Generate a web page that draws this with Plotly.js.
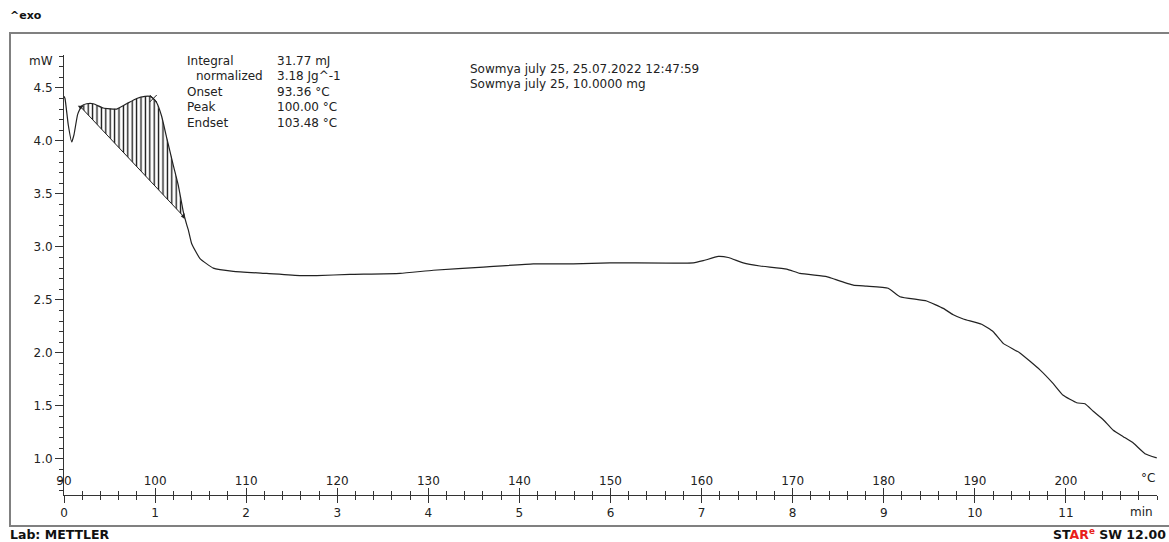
<!DOCTYPE html>
<html>
<head>
<meta charset="utf-8">
<script src="https://cdn.plot.ly/plotly-3.0.1.min.js"></script>
<style>
  html, body { margin: 0; padding: 0; background: #fff; }
  #chart { width: 1169px; height: 542px; }
</style>
</head>
<body>
<div id="chart"></div>
<script>
// DSC curve: time (min) and heat flow (mW)
var timeMin = [0.000, 0.011, 0.047, 0.085, 0.110, 0.150, 0.194, 0.249, 0.322, 0.431, 0.579, 0.688,
  0.798, 0.889, 0.944, 0.980, 1.018, 1.073, 1.127, 1.200, 1.255, 1.310, 1.347, 1.365, 1.402, 1.493,
  1.639, 1.859, 2.225, 2.591, 2.774, 3.140, 3.689, 4.054, 4.603, 5.152, 5.591, 5.994, 6.909, 7.018,
  7.183, 7.293, 7.457, 7.641, 7.934, 8.080, 8.373, 8.445, 8.665, 8.812, 9.049, 9.178, 9.471, 9.653,
  9.763, 9.873, 10.075, 10.202, 10.312, 10.495, 10.715, 10.861, 10.970, 11.118, 11.209, 11.300,
  11.410, 11.520, 11.630, 11.740, 11.868, 11.997];
var heatFlow = [4.42, 4.40, 4.15, 3.99, 4.06, 4.25, 4.33, 4.35, 4.35, 4.31, 4.30, 4.35,
  4.40, 4.42, 4.42, 4.40, 4.36, 4.23, 4.03, 3.77, 3.58, 3.33, 3.21, 3.16, 3.03, 2.89,
  2.80, 2.77, 2.75, 2.73, 2.73, 2.74, 2.75, 2.78, 2.81, 2.84, 2.84, 2.85, 2.85, 2.87,
  2.91, 2.90, 2.85, 2.82, 2.79, 2.75, 2.72, 2.70, 2.64, 2.63, 2.61, 2.53, 2.49, 2.42,
  2.36, 2.32, 2.27, 2.20, 2.09, 2.00, 1.84, 1.71, 1.60, 1.53, 1.52, 1.45,
  1.37, 1.27, 1.21, 1.15, 1.05, 1.01];

// Integration baseline (onset side to endset side)
var baseT = [0.183, 1.310];
var baseV = [4.32, 3.29];
var peakT = [0.980];
var peakV = [4.40];

// Axis ticks
var timeTicks = [0,1,2,3,4,5,6,7,8,9,10,11];
var tempTicks = [90,100,110,120,130,140,150,160,170,180,190,200];
var yTicks = [1.0,1.5,2.0,2.5,3.0,3.5,4.0,4.5];

var infoLabels = ["Integral", "normalized", "Onset", "Peak", "Endset"];
var infoValues = ["31.77 mJ", "3.18 Jg^-1", "93.36 °C", "100.00 °C", "103.48 °C"];
var sampleLines = ["Sowmya july 25, 25.07.2022 12:47:59", "Sowmya july 25, 10.0000 mg"];

// Build hatched area polygon: curve between baseline ends, back along baseline
var polyT = [baseT[0]], polyV = [baseV[0]];
for (var i = 0; i < timeMin.length; i++) {
  if (timeMin[i] > baseT[0] && timeMin[i] < baseT[1]) { polyT.push(timeMin[i]); polyV.push(heatFlow[i]); }
}
polyT.push(baseT[1]); polyV.push(baseV[1]);
polyT.push(baseT[0]); polyV.push(baseV[0]);

var FONT = "DejaVu Sans, Verdana, sans-serif";
var L = 64, R = 12, T = 55, B = 47, W = 1169, H = 542;
var pw = W - L - R, ph = H - T - B;
function px(x) { return (x - L) / pw; }
function py(y) { return (H - B - y) / ph; }

var traces = [
  { x: polyT, y: polyV, type: 'scatter', mode: 'lines', fill: 'toself',
    fillcolor: 'rgba(0,0,0,0)',
    fillpattern: { shape: '|', size: 4.4, solidity: 0.3, fgcolor: '#111', bgcolor: 'rgba(0,0,0,0)' },
    line: { width: 0 }, hoverinfo: 'skip', showlegend: false },
  { x: baseT, y: baseV, type: 'scatter', mode: 'lines', line: { color: '#222', width: 1 },
    showlegend: false },
  { x: timeMin, y: heatFlow, type: 'scatter', mode: 'lines', line: { color: '#222', width: 1.2, shape: 'spline', smoothing: 0.4 },
    showlegend: false },
  { x: peakT, y: peakV, type: 'scatter', mode: 'markers',
    marker: { symbol: 'x-thin', size: 7, line: { width: 1, color: '#222' } }, showlegend: false },
  { x: baseT, y: baseV, type: 'scatter', mode: 'markers',
    marker: { symbol: ['triangle-down', 'triangle-left'], size: 5, color: '#222' }, showlegend: false },
  { x: [90, 210], y: [null, null], xaxis: 'x2', type: 'scatter', mode: 'lines', showlegend: false }
];

var annotations = [];
function ann(text, x, y, opts) {
  var a = Object.assign({ text: text, xref: 'paper', yref: 'paper', x: px(x), y: py(y),
    xanchor: 'left', yanchor: 'middle', showarrow: false,
    font: { family: FONT, size: 12, color: '#222' } }, opts || {});
  annotations.push(a);
}
for (var k = 0; k < infoLabels.length; k++) {
  var yy = 61 + k * 15.5;
  ann(infoLabels[k], k === 1 ? 194 : 185, yy);
  ann(infoValues[k], 275, yy);
}
ann(sampleLines[0], 468, 69);
ann(sampleLines[1], 468, 84);
ann('mW', 55, 61, { xanchor: 'right' });
ann('°C', 1157, 478, { xanchor: 'right' });
ann('min', 1155, 512, { xanchor: 'right' });
ann('<b>^exo</b>', 8, 15, { font: { family: FONT, size: 11, color: '#111' } });
ann('<b>Lab: METTLER</b>', 8, 534, { font: { family: FONT, size: 12.5, color: '#111' } });
ann('<b>ST<span style="color:#e8201a">AR</span><sup style="font-size:7px;color:#e8201a">e</sup> SW 12.00</b>',
    1168, 534, { xanchor: 'right', font: { family: FONT, size: 12.5, color: '#111' } });

var layout = {
  width: W, height: H,
  margin: { l: L, r: R, t: T, b: B, pad: 0 },
  paper_bgcolor: '#fff', plot_bgcolor: '#fff',
  showlegend: false,
  font: { family: FONT, size: 12, color: '#222' },
  xaxis: {
    range: [0, 12], tickmode: 'array', tickvals: timeTicks, ticktext: timeTicks.map(String),
    ticks: 'outside', ticklen: 7, tickwidth: 1, tickcolor: '#333',
    showline: true, linecolor: '#333', linewidth: 1, showgrid: false, zeroline: false,
    tickfont: { family: FONT, size: 12, color: '#222' },
    minor: { tickmode: 'linear', tick0: 0, dtick: 0.2, ticks: 'outside', ticklen: 4, tickcolor: '#333', showgrid: false }
  },
  xaxis2: {
    overlaying: 'x', anchor: 'y', side: 'bottom', range: [90, 210],
    tickmode: 'array', tickvals: tempTicks, ticktext: tempTicks.map(String),
    ticks: 'inside', ticklen: 7, tickwidth: 1, tickcolor: '#333',
    ticklabelposition: 'inside', ticklabeloverflow: 'allow',
    showline: false, showgrid: false, zeroline: false,
    tickfont: { family: FONT, size: 12, color: '#222' },
    minor: { tickmode: 'linear', tick0: 90, dtick: 2, ticks: 'inside', ticklen: 4, tickcolor: '#333', showgrid: false }
  },
  yaxis: {
    range: [0.66, 4.81], tickmode: 'array', tickvals: yTicks, tickformat: '.1f',
    ticks: 'outside', ticklen: 8, tickwidth: 1, tickcolor: '#333',
    showline: true, linecolor: '#333', linewidth: 1, showgrid: false, zeroline: false,
    tickfont: { family: FONT, size: 12, color: '#222' },
    minor: { tickmode: 'linear', tick0: 0, dtick: 0.1, ticks: 'outside', ticklen: 4, tickcolor: '#333', showgrid: false }
  },
  shapes: [
    { type: 'rect', xref: 'paper', yref: 'paper', x0: px(10), x1: px(1175), y0: py(526), y1: py(33),
      line: { color: '#808080', width: 2 }, fillcolor: 'rgba(0,0,0,0)', layer: 'below' }
  ],
  annotations: annotations
};

Plotly.newPlot('chart', traces, layout, { displayModeBar: false, staticPlot: true });
</script>
</body>
</html>
